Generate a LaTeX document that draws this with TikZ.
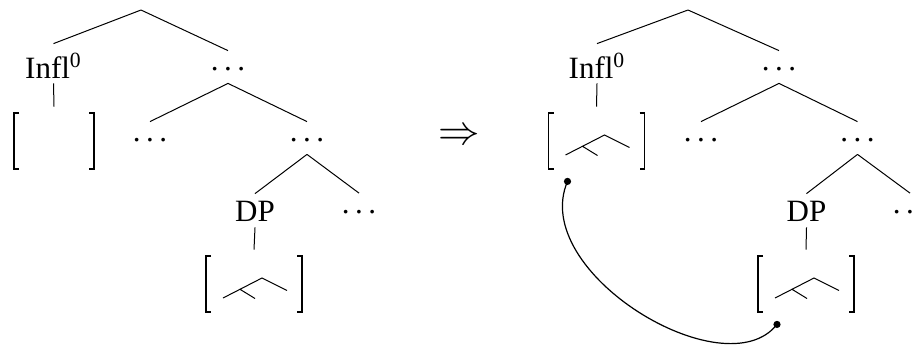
\documentclass[tikz,border=0pt]{standalone}
\usepackage{fontspec}
\setmainfont{Liberation Serif}
\newcommand{\ellip}{.\kern2.7pt.\kern2.7pt.}

\begin{document}
\begin{tikzpicture}[
  x=0.5pt, y=-0.5pt,
  font=\fontsize{15.5}{18}\selectfont,
  branch/.style={line width=0.5pt},
  inflcat/.style={inner sep=0pt, anchor=base, text height=17pt, text depth=2.5pt},
  dpcat/.style={inner sep=0pt, anchor=base, text height=13.5pt, text depth=3pt},
  dotsnode/.style={inner sep=0pt, anchor=base, text height=9.75pt, text depth=6.25pt},
  brkbox/.style={inner sep=0pt, minimum width=#1, minimum height=34pt},
  pics/brackets/.style={code={
    \draw[line width=0.9pt] (-#1+5,-28) -- (-#1,-28) -- (-#1,28) -- (-#1+5,28)
      (#1-5,-28) -- (#1,-28) -- (#1,28) -- (#1-5,28);}},
  pics/subtree/.style={code={
    \draw[line width=0.5pt] (-31,14) -- (8,-6) -- (33,6.5) (-14,5.3) -- (1,14.5);}},
  trace/.style={line width=0.6pt},
  tracedot/.style={circle, fill, inner sep=0pt, minimum size=3.6pt}
]
\useasboundingbox (0,0) rectangle (919,344);

% left tree
\coordinate (Ltop) at (141,10);
\node[inflcat] (Linfl) at (53.5,78) {Infl\textsuperscript{0}};
\node[dotsnode] (Ld1) at (228,70.5) {\ellip};
\node[brkbox=42pt] (Lbox) at (54,141) {};
\node[dotsnode] (Ld2) at (150,141.5) {\ellip};
\node[dotsnode] (Ld3) at (307,141.5) {\ellip};
\node[dpcat] (Ldp) at (255,221) {DP};
\node[dotsnode] (Ld4) at (359,213) {\ellip};
\node[brkbox=50pt] (Ldpbox) at (254,284) {};

\draw[branch] (Ltop) -- (Linfl.north) (Ltop) -- (Ld1.north);
\draw[branch] (Linfl.south) -- (Lbox.north);
\draw[branch] (Ld1.south) -- (Ld2.north) (Ld1.south) -- (Ld3.north);
\draw[branch] (Ld3.south) -- (Ldp.north) (Ld3.south) -- (Ld4.north);
\draw[branch] (Ldp.south) -- (Ldpbox.north);
\pic at (Lbox) {brackets=40};
\pic at (Ldpbox) {brackets=48};
\pic at (Ldpbox) {subtree};

% the step
\node (impl) at (459.5,137) {\fontsize{21}{24}\selectfont$\Rightarrow$};

% right tree
\coordinate (Rtop) at (688,10);
\node[inflcat] (Rinfl) at (597,78) {Infl\textsuperscript{0}};
\node[dotsnode] (Rd1) at (779,70.5) {\ellip};
\node[brkbox=50pt] (Rbox) at (596.5,141) {};
\node[dotsnode] (Rd2) at (701,141.5) {\ellip};
\node[dotsnode] (Rd3) at (857.5,141.5) {\ellip};
\node[dpcat] (Rdp) at (806.5,221) {DP};
\node[dotsnode] (Rd4) at (910,213) {\ellip};
\node[brkbox=50pt] (Rdpbox) at (806,284) {};

\draw[branch] (Rtop) -- (Rinfl.north) (Rtop) -- (Rd1.north);
\draw[branch] (Rinfl.south) -- (Rbox.north);
\draw[branch] (Rd1.south) -- (Rd2.north) (Rd1.south) -- (Rd3.north);
\draw[branch] (Rd3.south) -- (Rdp.north) (Rd3.south) -- (Rd4.north);
\draw[branch] (Rdp.south) -- (Rdpbox.north);
\pic at (Rbox) {brackets=48};
\pic at (Rbox) {subtree};
\pic at (Rdpbox) {brackets=48};
\pic at (Rdpbox) {subtree};

% movement link
\node[tracedot] (src) at ([shift={(-29,6)}]Rbox.south) {};
\node[tracedot] (goal) at ([shift={(-29,6)}]Rdpbox.south) {};
\draw[trace] (src.center) .. controls +(-39,91) and +(-52,66) .. (goal.center);

\end{tikzpicture}
\end{document}
